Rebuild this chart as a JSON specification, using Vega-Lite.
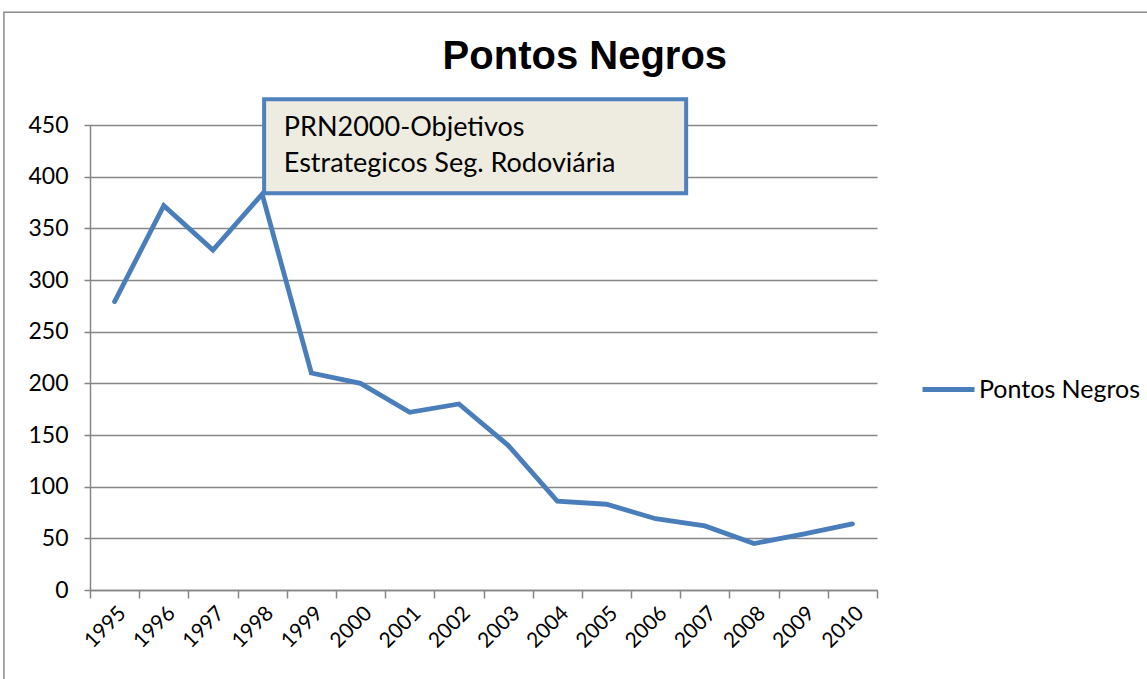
{
  "$schema": "https://vega.github.io/schema/vega-lite/v6.json",
  "width": 787,
  "height": 465,
  "autosize": "none",
  "padding": {"left": 90, "top": 125, "right": 270, "bottom": 89},
  "background": "white",
  "config": {"view": {"stroke": null}, "font": "Lato"},
  "datasets": {
    "series": [
      {"year": "1995", "value": 279, "series": "Pontos Negros"},
      {"year": "1996", "value": 372, "series": "Pontos Negros"},
      {"year": "1997", "value": 329, "series": "Pontos Negros"},
      {"year": "1998", "value": 383, "series": "Pontos Negros"},
      {"year": "1999", "value": 210, "series": "Pontos Negros"},
      {"year": "2000", "value": 200, "series": "Pontos Negros"},
      {"year": "2001", "value": 172, "series": "Pontos Negros"},
      {"year": "2002", "value": 180, "series": "Pontos Negros"},
      {"year": "2003", "value": 140, "series": "Pontos Negros"},
      {"year": "2004", "value": 86, "series": "Pontos Negros"},
      {"year": "2005", "value": 83, "series": "Pontos Negros"},
      {"year": "2006", "value": 69, "series": "Pontos Negros"},
      {"year": "2007", "value": 62, "series": "Pontos Negros"},
      {"year": "2008", "value": 45, "series": "Pontos Negros"},
      {"year": "2009", "value": 54, "series": "Pontos Negros"},
      {"year": "2010", "value": 64, "series": "Pontos Negros"}
    ],
    "note": [
      {"x": 1998.04, "x2": 2006.62, "y": 384, "y2": 475, "tx": 1998.44, "ty": 439.5, "label": "PRN2000-Objetivos\nEstrategicos Seg. Rodoviária"}
    ],
    "heading": [
      {"x": 2004.56, "y": 504, "label": "Pontos Negros"}
    ],
    "frame": [
      {"x": 1992.75, "x2": 2040, "y": 559, "y2": -300}
    ]
  },
  "layer": [
    {
      "data": {"name": "frame"},
      "mark": {"type": "rect", "fill": null, "stroke": "#8a8a8a", "strokeWidth": 1.5},
      "encoding": {
        "x": {"field": "x", "type": "quantitative", "scale": {"domain": [1994.5, 2010.5]}, "axis": null},
        "x2": {"field": "x2"},
        "y": {"field": "y", "type": "quantitative", "scale": {"domain": [0, 450], "nice": false}},
        "y2": {"field": "y2"}
      }
    },
    {
      "data": {"name": "heading"},
      "mark": {"type": "text", "align": "center", "baseline": "alphabetic", "font": "Liberation Sans", "fontSize": 40, "fontWeight": "bold", "color": "black"},
      "encoding": {
        "x": {"field": "x", "type": "quantitative", "scale": {"domain": [1994.5, 2010.5]}, "axis": null},
        "y": {"field": "y", "type": "quantitative"},
        "text": {"field": "label"}
      }
    },
    {
      "data": {"name": "series"},
      "mark": {"type": "line", "strokeWidth": 4.8, "strokeCap": "round", "strokeJoin": "miter"},
      "encoding": {
        "x": {
          "field": "year",
          "type": "ordinal",
          "bandPosition": 0.5,
          "scale": {"type": "band", "paddingInner": 0, "paddingOuter": 0},
          "axis": {
            "title": null,
            "tickBand": "extent",
            "labelAngle": -45,
            "labelFontSize": 21,
            "labelColor": "black",
            "labelPadding": 4,
            "tickSize": 8,
            "tickColor": "#868686",
            "tickWidth": 1.5,
            "domainColor": "#868686",
            "domainWidth": 1.5,
            "grid": false
          }
        },
        "y": {
          "field": "value",
          "type": "quantitative",
          "scale": {"domain": [0, 450], "nice": false},
          "axis": {
            "title": null,
            "values": [0, 50, 100, 150, 200, 250, 300, 350, 400, 450],
            "labelFontSize": 23,
            "labelColor": "black",
            "labelPadding": 16,
            "tickSize": 6,
            "tickColor": "#868686",
            "tickWidth": 1.5,
            "domainColor": "#868686",
            "domainWidth": 1.5,
            "grid": true,
            "gridColor": "#868686",
            "gridWidth": 1.5
          }
        },
        "color": {
          "field": "series",
          "type": "nominal",
          "scale": {"range": ["#4A7EBB"]},
          "legend": {
            "title": null,
            "orient": "none",
            "legendX": 830,
            "legendY": 236,
            "symbolType": "stroke",
            "symbolSize": 2704,
            "symbolStrokeWidth": 4.8,
            "labelFontSize": 25,
            "labelLimit": 400,
            "labelColor": "black",
            "labelOffset": 2
          }
        }
      }
    },
    {
      "data": {"name": "note"},
      "mark": {"type": "rect", "fill": "#EEECE1", "stroke": "#4F81BD", "strokeWidth": 4},
      "encoding": {
        "x": {"field": "x", "type": "quantitative", "scale": {"domain": [1994.5, 2010.5]}, "axis": null},
        "x2": {"field": "x2"},
        "y": {"field": "y", "type": "quantitative"},
        "y2": {"field": "y2"}
      }
    },
    {
      "data": {"name": "note"},
      "mark": {"type": "text", "align": "left", "baseline": "alphabetic", "fontSize": 27, "lineBreak": "\n", "lineHeight": 35.7, "color": "black"},
      "encoding": {
        "x": {"field": "tx", "type": "quantitative", "scale": {"domain": [1994.5, 2010.5]}, "axis": null},
        "y": {"field": "ty", "type": "quantitative"},
        "text": {"field": "label"}
      }
    }
  ],
  "resolve": {"scale": {"x": "independent"}, "axis": {"x": "independent"}}
}
